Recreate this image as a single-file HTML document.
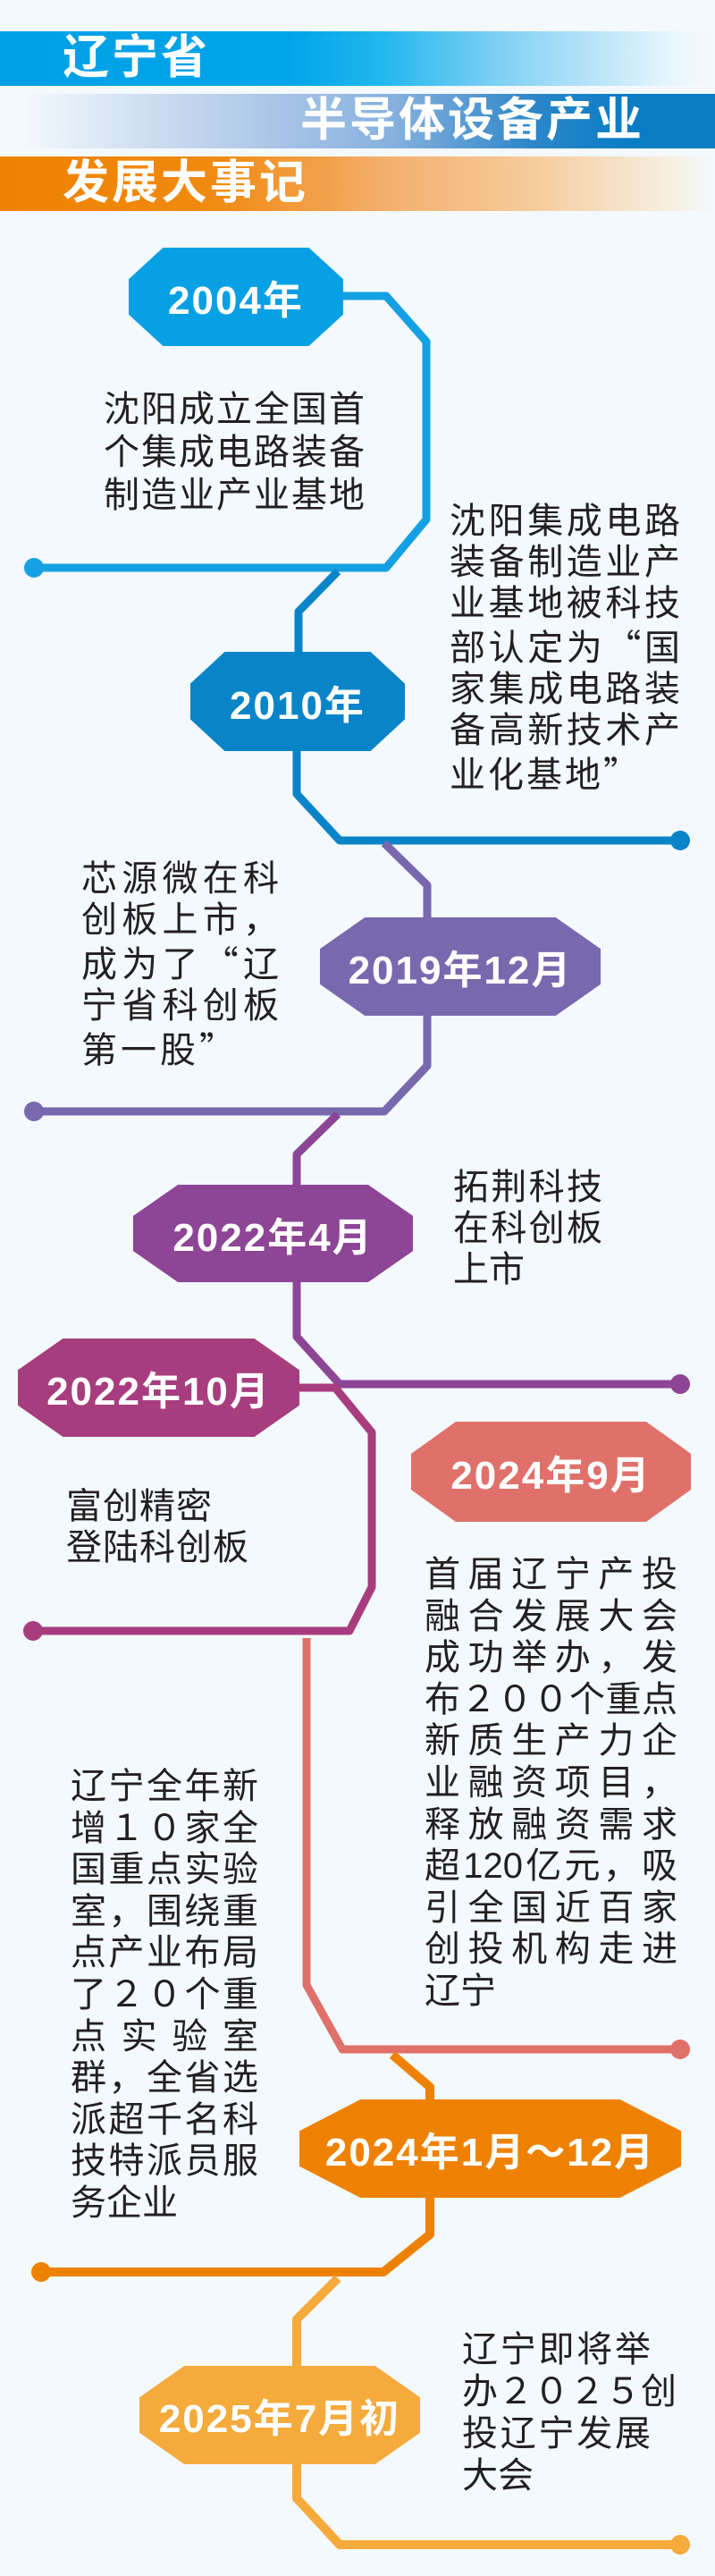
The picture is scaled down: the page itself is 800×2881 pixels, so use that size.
<!DOCTYPE html>
<html><head><meta charset="utf-8">
<style>
*{margin:0;padding:0;box-sizing:border-box}
body{width:800px;height:2881px;background:#f3f9fd;position:relative;overflow:hidden;font-family:"Liberation Sans","Noto Sans CJK SC",sans-serif}
.ban{position:absolute;left:0;width:800px;height:61px}
.bt{position:absolute;color:#fff;font-weight:bold;font-size:52px;letter-spacing:3px;line-height:61px;font-family:"Liberation Sans","Noto Sans CJK SC",sans-serif}
.b{position:absolute;color:#fff;font-weight:bold;font-size:44px;letter-spacing:2px;display:flex;align-items:center;justify-content:center;clip-path:polygon(16% 0,84% 0,100% 32%,100% 68%,84% 100%,16% 100%,0 68%,0 32%)}
.t{position:absolute;color:#231f20;font-size:40px;line-height:46px;font-family:"Liberation Sans","Noto Sans CJK SC",sans-serif}
.t div{text-align:justify;text-align-last:justify;white-space:nowrap}
.t div.l{text-align-last:left}
.q{font-family:"Noto Sans CJK SC",sans-serif}
svg{position:absolute;left:0;top:0}
</style></head><body>
<div class="ban" style="top:35px;background:linear-gradient(90deg,#00a0e6 0%,#00a4e8 40%,#20b6ee 53%,#80d0f4 70%,rgba(230,245,252,0.6) 95%,rgba(243,249,253,0) 100%)"></div>
<div class="bt" style="left:70px;top:35px">辽宁省</div>
<div class="ban" style="top:105px;background:linear-gradient(90deg,rgba(243,249,253,0) 3%,#c5d7ee 25%,#86b0de 55%,#2b86c8 75%,#0a7cc4 88%,#0a7cc4 100%)"></div>
<div class="bt" style="left:336px;top:105px">半导体设备产业</div>
<div class="ban" style="top:175px;background:linear-gradient(90deg,#ef8200 0%,#f08a10 30%,#f4b070 55%,#f6cc9c 75%,rgba(248,232,208,0.7) 93%,rgba(243,249,253,0) 100%)"></div>
<div class="bt" style="left:70px;top:175px">发展大事记</div>

<svg width="800" height="2881" viewBox="0 0 800 2881" fill="none" stroke-linejoin="round" stroke-width="9">
<path d="M380 331 H432 L477 382 V581 L432 635 H38" stroke="#16a0e4"/><circle cx="38" cy="635" r="11" fill="#16a0e4"/>
<path d="M378 639 L334 684 V735 M332 835 V888 L380 940 H761" stroke="#0a84c8"/><circle cx="761" cy="940" r="11" fill="#0a84c8"/>
<path d="M430 943 L478 990 V1030 M478 1130 V1192 L430 1243 H38" stroke="#7868ad"/><circle cx="38" cy="1243" r="11" fill="#7868ad"/>
<path d="M378 1246 L332 1291 V1330 M332 1430 V1495 L380 1548 H761" stroke="#8d4595"/><circle cx="761" cy="1548" r="11" fill="#8d4595"/>
<path d="M330 1552 H375 L416 1602 V1775 L391 1824 H37" stroke="#a73d7e"/><circle cx="37" cy="1824" r="11" fill="#a73d7e"/>
<path d="M343 1832 V2220 L383 2292 H761" stroke="#e0706a"/><circle cx="761" cy="2292" r="11" fill="#e0706a"/>
<path d="M439 2298 L481 2334 V2352 M481 2455 V2499 L429 2541 H46" stroke="#ee8200" stroke-width="10"/><circle cx="46" cy="2541" r="11" fill="#ee8200"/>
<path d="M378 2548 L332 2594 V2650 M332 2752 V2794 L380 2846 H761" stroke="#f5aa3c" stroke-width="10"/><circle cx="761" cy="2846" r="11" fill="#f5aa3c"/>
</svg>

<div class="b" style="left:144px;top:277px;width:240px;height:110px;background:#08a0e5">2004年</div>
<div class="b" style="left:213px;top:729px;width:240px;height:111px;background:#0a84c8">2010年</div>
<div class="b" style="left:358px;top:1026px;width:314px;height:110px;background:#7868ad">2019年12月</div>
<div class="b" style="left:149px;top:1325px;width:313px;height:109px;background:#8d4595">2022年4月</div>
<div class="b" style="left:20px;top:1497px;width:315px;height:110px;background:#a73d7e">2022年10月</div>
<div class="b" style="left:460px;top:1590px;width:313px;height:112px;background:#e0706a">2024年9月</div>
<div class="b" style="left:335px;top:2348px;width:427px;height:110px;background:#ee8200">2024年1月～12月</div>
<div class="b" style="left:156px;top:2646px;width:314px;height:110px;background:#f5aa3c">2025年7月初</div>

<div class="t" style="left:116px;top:434px;width:292px;line-height:48px">
<div>沈阳成立全国首</div><div>个集成电路装备</div><div>制造业产业基地</div></div>

<div class="t" style="left:503px;top:560px;width:258px">
<div>沈阳集成电路</div><div>装备制造业产</div><div>业基地被科技</div><div>部认定为<span class="q">“</span>国</div><div>家集成电路装</div><div>备高新技术产</div><div class="l" style="letter-spacing:3px">业化基地<span class="q">”</span></div></div>

<div class="t" style="left:91px;top:960px;width:221px">
<div>芯源微在科</div><div>创板上市，</div><div>成为了<span class="q">“</span>辽</div><div>宁省科创板</div><div class="l" style="letter-spacing:4px">第一股<span class="q">”</span></div></div>

<div class="t" style="left:507px;top:1305px;width:167px">
<div>拓荆科技</div><div>在科创板</div><div class="l">上市</div></div>

<div class="t" style="left:74px;top:1662px;width:204px">
<div class="l" style="letter-spacing:1px">富创精密</div><div>登陆科创板</div></div>

<div class="t" style="left:475px;top:1738px;width:283px;line-height:46.6px">
<div>首届辽宁产投</div><div>融合发展大会</div><div>成功举办，发</div><div>布２００个重点</div><div>新质生产力企</div><div>业融资项目，</div><div>释放融资需求</div><div>超120亿元，吸</div><div>引全国近百家</div><div>创投机构走进</div><div class="l">辽宁</div></div>

<div class="t" style="left:79px;top:1975px;width:210px;line-height:46.6px">
<div>辽宁全年新</div><div>增１０家全</div><div>国重点实验</div><div>室，围绕重</div><div>点产业布局</div><div>了２０个重</div><div>点实验室</div><div>群，全省选</div><div>派超千名科</div><div>技特派员服</div><div class="l">务企业</div></div>

<div class="t" style="left:517px;top:2605px;width:211px;line-height:47px">
<div>辽宁即将举</div><div>办２０２５创</div><div>投辽宁发展</div><div class="l">大会</div></div>
</body></html>
